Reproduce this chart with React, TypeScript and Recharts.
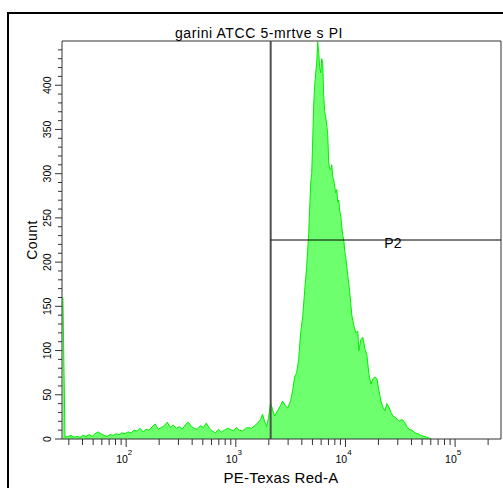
import { Area, AreaChart, ReferenceDot, ReferenceLine, XAxis, YAxis } from "recharts";

// PE-Texas Red-A channel (bin position) and event count for each bin
const channels = [
  26.5, 27.1, 27.7, 29.5, 31.4, 33.4, 35.6, 37.9, 40.4, 43.1, 45.9, 48.9, 52.1, 55.4, 59.1, 62.9,
  67.0, 71.4, 76.0, 81.0, 86.3, 91.9, 97.9, 104, 111, 118, 126, 134, 143, 152, 162, 173, 184, 196,
  209, 223, 237, 253, 269, 287, 305, 325, 346, 369, 393, 419, 446, 475, 506, 539, 574, 612, 652,
  694, 739, 788, 839, 894, 952, 1014, 1080, 1151, 1226, 1306, 1391, 1482, 1578, 1681, 1753, 1829,
  1908, 1990, 2076, 2165, 2258, 2406, 2563, 2673, 2848, 2971, 3162, 3299, 3441, 3589, 3743, 3904,
  4073, 4248, 4431, 4622, 4820, 4923, 5028, 5134, 5244, 5355, 5469, 5585, 5704, 5825, 5949, 6075,
  6204, 6336, 6471, 6608, 6749, 6892, 7039, 7188, 7341, 7499, 7658, 7820, 7987, 8157, 8331, 8508,
  8690, 8874, 9066, 9258, 9456, 9656, 9862, 10070, 10500, 10960, 11430, 11930, 12430, 12970,
  13240, 13810, 14410, 15030, 15680, 16350, 17050, 17790, 18550, 19350, 20180, 21050, 21950,
  22890, 23880, 24910, 25980, 27100, 28870, 30750, 32760, 34170, 36400, 37960, 40440, 43080,
  45890, 48890, 52080, 55470, 57860, 60350,
];
const counts = [
  160, 80, 2, 3, 4, 2, 3, 2, 4, 3, 5, 3, 6, 8, 6, 4,
  3, 5, 4, 6, 5, 7, 6, 8, 7, 10, 9, 12, 8, 11, 10, 14, 17, 11,
  13, 15, 19, 13, 16, 12, 14, 11, 16, 19, 14, 12, 11, 15, 13, 18, 12, 9, 7,
  11, 8, 10, 12, 11, 9, 13, 10, 9, 12, 13, 12, 15, 18, 22, 28, 20,
  14, 24, 41, 33, 26, 32, 38, 43, 37, 35, 43, 55, 70, 75, 90, 120,
  138, 168, 195, 232, 290, 300, 338, 378, 400, 414, 425, 449, 437, 420, 414, 430,
  425, 387, 370, 364, 355, 345, 312, 305, 304, 310, 296, 293, 285, 278, 282, 268,
  270, 258, 252, 240, 230, 225, 212, 205, 185, 165, 140, 128, 120, 122,
  100, 112, 115, 102, 95, 74, 62, 68, 70, 68, 55, 43, 36,
  32, 40, 36, 30, 26, 24, 20, 22, 20, 14, 11, 10, 7,
  6, 4, 3, 2, 1, 0,
];

const xTicks = [
  30, 40, 50, 60, 70, 80, 90, 100, 200, 300, 400, 500, 600, 700, 800, 900, 1000, 2000, 3000,
  4000, 5000, 6000, 7000, 8000, 9000, 10000, 20000, 30000, 40000, 50000, 60000, 70000, 80000,
  90000, 100000, 200000,
];
const decades = [100, 1000, 10000, 100000];
const yTicks = [
  0, 10, 20, 30, 40, 50, 60, 70, 80, 90, 100, 110, 120, 130, 140, 150, 160, 170, 180, 190, 200,
  210, 220, 230, 240, 250, 260, 270, 280, 290, 300, 310, 320, 330, 340, 350, 360, 370, 380, 390,
  400, 410, 420, 430, 440,
];
const yLabels = [0, 50, 100, 150, 200, 250, 300, 350, 400];

const gateX = 2080;
const gateCount = 225;

const data = channels.map((ch, i) => ({ ch, count: counts[i] }));

const FONT = '"Liberation Sans", Arial, sans-serif';
const AXIS = "#333";

function CountTick(props: any) {
  const { x, y, payload } = props;
  const v = payload.value;
  const major = yLabels.includes(v);
  return (
    <g>
      <line x1={x - (major ? 7 : 4)} x2={x} y1={y} y2={y} stroke={AXIS} />
      {major && (
        <text
          x={x - 15}
          y={y}
          transform={`rotate(-90 ${x - 15} ${y})`}
          textAnchor="middle"
          dominantBaseline="central"
          fontSize={10.5}
          fontFamily={FONT}
          fill="#000"
        >
          {v}
        </text>
      )}
    </g>
  );
}

function ChannelTick(props: any) {
  const { x, y, payload } = props;
  const v = payload.value;
  const major = decades.includes(v);
  return (
    <g>
      <line x1={x} x2={x} y1={y} y2={y + (major ? 8 : 6)} stroke={AXIS} />
      {major && (
        <text x={x - 10} y={y + 24} fontSize={10.5} fontFamily={FONT} fill="#000">
          10
          <tspan dy={-8} fontSize={8}>
            {Math.round(Math.log10(v))}
          </tspan>
        </text>
      )}
    </g>
  );
}

export default function App() {
  return (
    <div
      style={{
        position: "absolute",
        left: 0,
        top: 0,
        width: 503,
        height: 488,
        overflow: "hidden",
        background: "#fff",
      }}
    >
      <div
        style={{
          position: "absolute",
          left: 7,
          top: 12,
          width: 600,
          height: 600,
          border: "2px solid #000",
        }}
      />
      <div style={{ position: "absolute", left: 0, top: 0 }}>
        <AreaChart
          width={503}
          height={488}
          data={data}
          margin={{ top: 41, right: 2, bottom: 0, left: 0 }}
        >
          <XAxis
            dataKey="ch"
            type="number"
            scale="log"
            domain={[26, 262144]}
            allowDataOverflow
            ticks={xTicks}
            interval={0}
            height={49}
            tickSize={0}
            tickMargin={0}
            tick={<ChannelTick />}
            axisLine={{ stroke: AXIS }}
          />
          <YAxis
            type="number"
            domain={[0, 450]}
            allowDataOverflow
            ticks={yTicks}
            interval={0}
            width={62}
            tickSize={0}
            tickMargin={0}
            tick={<CountTick />}
            axisLine={{ stroke: AXIS }}
          />
          <Area
            type="linear"
            dataKey="count"
            stroke="#00ee00"
            strokeWidth={1}
            fill="#6eff6e"
            fillOpacity={1}
            dot={false}
            activeDot={false}
            isAnimationActive={false}
          />
          <ReferenceLine y={450} stroke={AXIS} />
          <ReferenceLine x={262144} stroke={AXIS} />
          <ReferenceLine x={gateX} stroke="#505050" strokeWidth={2} />
          <ReferenceLine
            segment={[
              { x: gateX, y: gateCount },
              { x: 262144, y: gateCount },
            ]}
            stroke="#000"
          />
          <ReferenceDot
            x={27100}
            y={222}
            r={0}
            fill="none"
            stroke="none"
            label={{ value: "P2", position: "center", fontSize: 14, fill: "#000", fontFamily: FONT }}
          />
        </AreaChart>
      </div>
      <svg
        width={503}
        height={488}
        style={{ position: "absolute", left: 0, top: 0, pointerEvents: "none" }}
      >
        <text
          x={259}
          y={38}
          textAnchor="middle"
          fontSize={14}
          letterSpacing={0.6}
          fontFamily={FONT}
          fill="#000"
        >
          garini ATCC 5-mrtve s PI
        </text>
        <text
          x={281}
          y={483}
          textAnchor="middle"
          fontSize={15}
          letterSpacing={0.3}
          fontFamily={FONT}
          fill="#000"
        >
          PE-Texas Red-A
        </text>
        <text
          x={32}
          y={240}
          transform="rotate(-90 32 240)"
          textAnchor="middle"
          dominantBaseline="central"
          fontSize={14}
          letterSpacing={0.4}
          fontFamily={FONT}
          fill="#000"
        >
          Count
        </text>
      </svg>
    </div>
  );
}
